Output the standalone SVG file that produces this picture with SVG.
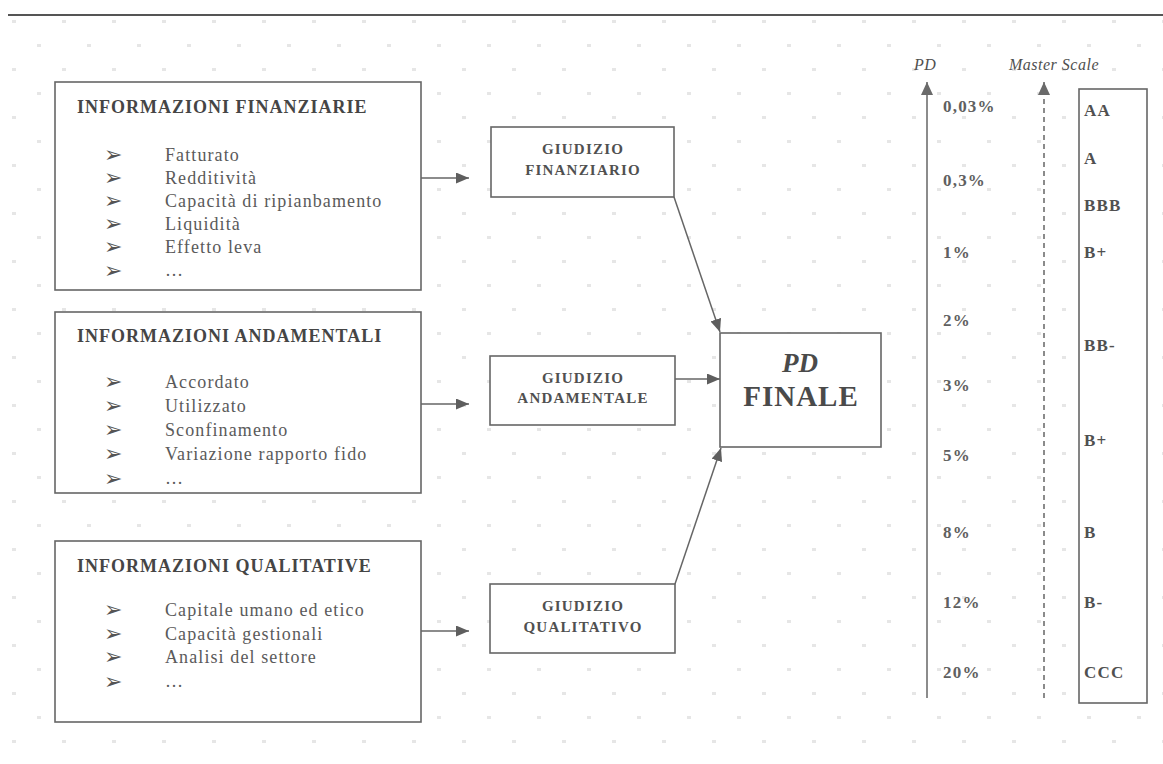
<svg xmlns="http://www.w3.org/2000/svg" width="1163" height="764" viewBox="0 0 1163 764">
  <defs>
    <!-- faint staggered dot texture of the page -->
    <pattern id="dots" x="0" y="0" width="50" height="48" patternUnits="userSpaceOnUse">
      <rect x="12" y="20" width="4" height="3" fill="#e6e6e6"/>
      <rect x="37" y="44" width="4" height="3" fill="#e6e6e6"/>
    </pattern>
    <marker id="arrow" viewBox="0 0 13 11" refX="13" refY="5.5" markerWidth="13" markerHeight="11" markerUnits="userSpaceOnUse" orient="auto">
      <path d="M0,0 L13,5.5 L0,11 Z" fill="#5e5e5e"/>
    </marker>
    <marker id="axisHead" viewBox="0 0 13 12" refX="13" refY="6" markerWidth="13" markerHeight="12" markerUnits="userSpaceOnUse" orient="auto">
      <path d="M0,0 L13,6 L0,12 Z" fill="#6a6a6a"/>
    </marker>
    <style>
      .box { fill: #fff; stroke: #666; stroke-width: 1.6; }
      .hdr { font-family: "Liberation Serif", "Times New Roman", serif; font-weight: bold; font-size: 18px; letter-spacing: 1px; fill: #454545; }
      .item { font-family: "Liberation Serif", "Times New Roman", serif; font-size: 18px; letter-spacing: 1.1px; fill: #5a5a5a; }
      .bul { font-family: "DejaVu Sans", sans-serif; font-size: 22px; fill: #555; }
      .giu { font-family: "Liberation Serif", "Times New Roman", serif; font-weight: bold; font-size: 15px; letter-spacing: 1.2px; fill: #505050; text-anchor: middle; }
      .pd { font-family: "Liberation Serif", "Times New Roman", serif; font-weight: bold; fill: #4a4a4a; text-anchor: middle; }
      .val { font-family: "Liberation Serif", "Times New Roman", serif; font-weight: bold; font-size: 17px; letter-spacing: 1.2px; fill: #606060; }
      .rat { font-family: "Liberation Serif", "Times New Roman", serif; font-weight: bold; font-size: 17px; letter-spacing: 1.2px; fill: #505050; }
      .ttl { font-family: "Liberation Serif", "Times New Roman", serif; font-style: italic; font-size: 16px; letter-spacing: 0.5px; fill: #505050; }
      .conn { stroke: #666; stroke-width: 1.5; fill: none; }
    </style>
  </defs>

  <rect width="1163" height="764" fill="#fff"/>
  <rect width="1163" height="764" fill="url(#dots)"/>
  <line x1="8" y1="15" x2="1163" y2="15" stroke="#555" stroke-width="2"/>

  <!-- input blocks -->
  <g id="info-finanziarie">
    <rect class="box" x="55" y="82" width="366" height="208"/>
    <text class="hdr" x="77" y="113">INFORMAZIONI FINANZIARIE</text>
    <g class="bul">
      <text x="104" y="162">➢</text><text x="104" y="185">➢</text><text x="104" y="208">➢</text>
      <text x="104" y="231">➢</text><text x="104" y="254">➢</text><text x="104" y="278">➢</text>
    </g>
    <text class="item" x="165" y="161">Fatturato</text>
    <text class="item" x="165" y="184">Redditività</text>
    <text class="item" x="165" y="207">Capacità di ripianbamento</text>
    <text class="item" x="165" y="230">Liquidità</text>
    <text class="item" x="165" y="253">Effetto leva</text>
    <text class="item" x="165" y="276">…</text>
  </g>

  <g id="info-andamentali">
    <rect class="box" x="55" y="312" width="366" height="181"/>
    <text class="hdr" x="77" y="342">INFORMAZIONI ANDAMENTALI</text>
    <g class="bul">
      <text x="104" y="389">➢</text><text x="104" y="413">➢</text><text x="104" y="437">➢</text>
      <text x="104" y="461">➢</text><text x="104" y="486">➢</text>
    </g>
    <text class="item" x="165" y="388">Accordato</text>
    <text class="item" x="165" y="412">Utilizzato</text>
    <text class="item" x="165" y="436">Sconfinamento</text>
    <text class="item" x="165" y="460">Variazione rapporto fido</text>
    <text class="item" x="165" y="484">…</text>
  </g>

  <g id="info-qualitative">
    <rect class="box" x="55" y="541" width="366" height="181"/>
    <text class="hdr" x="77" y="572">INFORMAZIONI QUALITATIVE</text>
    <g class="bul">
      <text x="104" y="617">➢</text><text x="104" y="641">➢</text><text x="104" y="664">➢</text>
      <text x="104" y="689">➢</text>
    </g>
    <text class="item" x="165" y="616">Capitale umano ed etico</text>
    <text class="item" x="165" y="640">Capacità gestionali</text>
    <text class="item" x="165" y="663">Analisi del settore</text>
    <text class="item" x="165" y="687">…</text>
  </g>

  <!-- intermediate judgements -->
  <g id="giudizio-finanziario">
    <rect class="box" x="491" y="127" width="183" height="70"/>
    <text class="giu" x="583" y="154">GIUDIZIO</text>
    <text class="giu" x="583" y="175">FINANZIARIO</text>
  </g>
  <g id="giudizio-andamentale">
    <rect class="box" x="490" y="356" width="185" height="69"/>
    <text class="giu" x="583" y="383">GIUDIZIO</text>
    <text class="giu" x="583" y="403">ANDAMENTALE</text>
  </g>
  <g id="giudizio-qualitativo">
    <rect class="box" x="490" y="584" width="185" height="69"/>
    <text class="giu" x="583" y="611">GIUDIZIO</text>
    <text class="giu" x="583" y="632">QUALITATIVO</text>
  </g>

  <!-- final PD -->
  <g id="pd-finale">
    <rect class="box" x="720" y="333" width="161" height="114"/>
    <text class="pd" x="800" y="372" font-size="27" font-style="italic">PD</text>
    <text class="pd" x="801" y="406" font-size="29" letter-spacing="1">FINALE</text>
  </g>

  <!-- scales -->
  <g id="pd-scale">
    <text class="ttl" x="914" y="70">PD</text>
    <line x1="927" y1="698" x2="927" y2="82" stroke="#666" stroke-width="1.5" marker-end="url(#axisHead)"/>
    <text class="val" x="943" y="112">0,03%</text>
    <text class="val" x="943" y="186">0,3%</text>
    <text class="val" x="943" y="258">1%</text>
    <text class="val" x="943" y="326">2%</text>
    <text class="val" x="943" y="391">3%</text>
    <text class="val" x="943" y="461">5%</text>
    <text class="val" x="943" y="538">8%</text>
    <text class="val" x="943" y="608">12%</text>
    <text class="val" x="943" y="678">20%</text>
  </g>

  <g id="master-scale">
    <text class="ttl" x="1009" y="70">Master Scale</text>
    <line x1="1044" y1="698" x2="1044" y2="82" stroke="#666" stroke-width="1.5" stroke-dasharray="5,4" marker-end="url(#axisHead)"/>
    <rect class="box" x="1079" y="89" width="68" height="614"/>
    <text class="rat" x="1084" y="116">AA</text>
    <text class="rat" x="1084" y="164">A</text>
    <text class="rat" x="1084" y="211">BBB</text>
    <text class="rat" x="1084" y="258">B+</text>
    <text class="rat" x="1084" y="351">BB-</text>
    <text class="rat" x="1084" y="446">B+</text>
    <text class="rat" x="1084" y="538">B</text>
    <text class="rat" x="1084" y="608">B-</text>
    <text class="rat" x="1084" y="678">CCC</text>
  </g>

  <!-- connectors -->
  <g id="connectors" class="conn">
    <line x1="421" y1="178" x2="469" y2="178" marker-end="url(#arrow)"/>
    <line x1="421" y1="404" x2="469" y2="404" marker-end="url(#arrow)"/>
    <line x1="421" y1="631" x2="469" y2="631" marker-end="url(#arrow)"/>
    <line x1="674" y1="197" x2="720" y2="332" marker-end="url(#arrow)"/>
    <line x1="675" y1="379" x2="720" y2="379" marker-end="url(#arrow)"/>
    <line x1="675" y1="584" x2="721" y2="448" marker-end="url(#arrow)"/>
  </g>
</svg>
